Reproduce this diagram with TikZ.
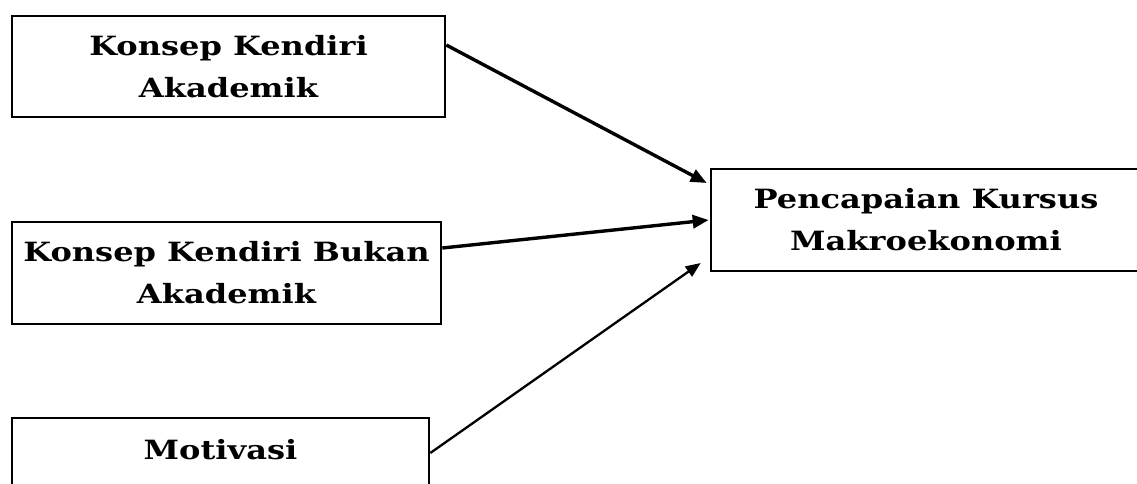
\documentclass[tikz,border=0pt]{standalone}
\usepackage{fontspec}
\setmainfont{DejaVu Serif}[FakeStretch=1.21]
\usetikzlibrary{arrows.meta}
\tikzset{
  box/.style={draw, line width=2.6pt, inner sep=0pt, align=center,
    font=\fontsize{26.5}{42}\selectfont\bfseries},
  thickarrow/.style={line width=3.4pt, -{Triangle[length=16pt,width=13pt]}},
  thinarrow/.style={line width=2.3pt, -{Triangle[length=15pt,width=12pt]}}
}
\begin{document}
\begin{tikzpicture}[x=1pt,y=-1pt]
\useasboundingbox (0,0) rectangle (1137,483);
\node[box, minimum width=433pt, minimum height=101pt] (a) at (228.5,66.5) {Konsep Kendiri\\Akademik};
\node[box, minimum width=429pt, minimum height=102pt] (b) at (226.5,273) {Konsep Kendiri Bukan\\Akademik};
\node[box, minimum width=417pt, text height=41pt, text depth=61pt, anchor=base] (c) at (220.5,459) {Motivasi};
\node[box, minimum width=430pt, minimum height=102pt] (d) at (926,220) {Pencapaian Kursus\\Makroekonomi};
\draw[thickarrow] ([yshift=21.5pt]a.east) -- ([xshift=-3pt,yshift=37pt]d.west);
\draw[thickarrow] ([yshift=25pt]b.east) -- ([xshift=-1pt]d.west);
\draw[thinarrow] ([yshift=16pt]c.east) -- ([xshift=-9pt,yshift=-43pt]d.west);
\end{tikzpicture}
\end{document}
